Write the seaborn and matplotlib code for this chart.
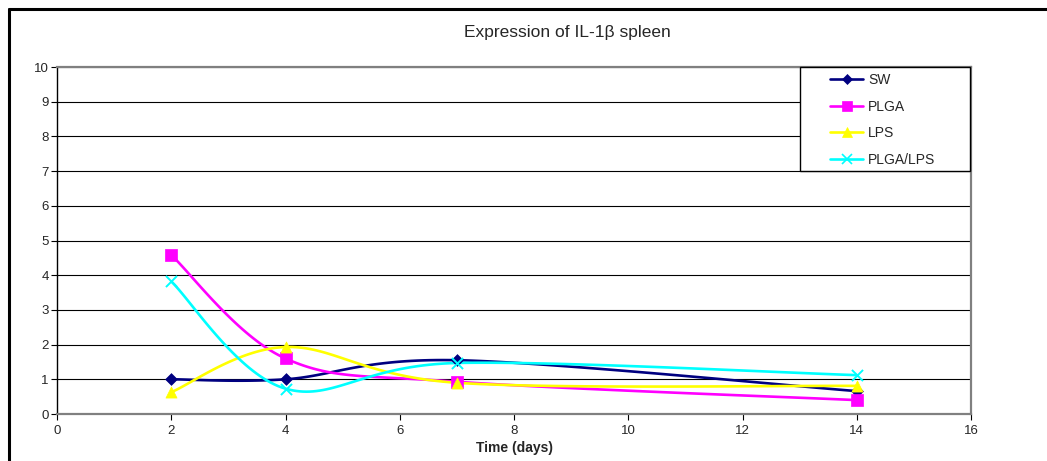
import numpy as np
import pandas as pd
import matplotlib
matplotlib.use("Agg")
import matplotlib.pyplot as plt
from matplotlib.lines import Line2D
from matplotlib.patches import Rectangle
import seaborn as sns

# ── data ──
DAYS = [2, 4, 7, 14]
SW = [1.0, 1.0, 1.55, 0.66]
PLGA = [4.58, 1.60, 0.93, 0.40]
LPS = [0.63, 1.93, 0.90, 0.81]
PLGA_LPS = [3.82, 0.73, 1.47, 1.12]

SERIES = ["SW", "PLGA", "LPS", "PLGA/LPS"]
COLORS = ["#000080", "#FF00FF", "#FFFF00", "#00FFFF"]
MARKERS = ["D", "s", "^", "x"]
MSIZE = [6, 8, 8, 8]

df = pd.DataFrame({
    "day": DAYS * 4,
    "value": SW + PLGA + LPS + PLGA_LPS,
    "series": np.repeat(SERIES, len(DAYS)),
})


def smooth(xs, ys, n=40):
    # Excel-style smoothed line: cubic Bezier with Catmull-Rom control points
    p = np.column_stack([xs, ys]).astype(float)
    p = np.vstack([p[0], p, p[-1]])
    out = []
    t = np.linspace(0, 1, n)[:, None]
    for i in range(1, len(p) - 2):
        p0, p1, p2, p3 = p[i - 1], p[i], p[i + 1], p[i + 2]
        c1 = p1 + (p2 - p0) / 6
        c2 = p2 - (p3 - p1) / 6
        seg = ((1 - t) ** 3) * p1 + 3 * ((1 - t) ** 2) * t * c1 + 3 * (1 - t) * t ** 2 * c2 + t ** 3 * p2
        out.append(seg)
    out = np.vstack(out)
    return out[:, 0], out[:, 1]


sns.set_style("white")
plt.rcParams["font.family"] = ["Liberation Sans", "DejaVu Sans"]

fig = plt.figure(figsize=(10.47, 4.61), dpi=100)
ax = fig.add_axes([57 / 1047, 1 - 414 / 461, (971 - 57) / 1047, (414 - 67) / 461])

for name, color in zip(SERIES, COLORS):
    sub = df[df["series"] == name]
    sx, sy = smooth(sub["day"].values, sub["value"].values)
    ax.plot(sx, sy, color=color, lw=1.9, zorder=3)

for name, color, mk, ms in zip(SERIES, COLORS, MARKERS, MSIZE):
    sub = df[df["series"] == name]
    if mk == "x":
        sns.scatterplot(data=sub, x="day", y="value", ax=ax, color=color, marker=mk,
                        s=ms ** 2, linewidth=1.4, zorder=4, legend=False)
    else:
        sns.scatterplot(data=sub, x="day", y="value", ax=ax, color=color, marker=mk,
                        s=ms ** 2, edgecolor=color, linewidth=0.5, zorder=4, legend=False)

ax.set_xlim(0, 16)
ax.set_ylim(0, 10)
ax.set_xticks(range(0, 17, 2))
ax.set_yticks(range(0, 11))
ax.yaxis.grid(True, color="black", lw=0.8)
ax.set_axisbelow(True)
ax.tick_params(axis="both", labelsize=9.5, length=4, width=0.8, direction="out",
               color="black", left=True, bottom=True, pad=2)
ax.tick_params(axis="x", pad=4)
ax.set_xlabel("Time (days)", fontsize=10, fontweight="bold", labelpad=3)
ax.set_ylabel("")
for side in ["top", "right", "bottom"]:
    ax.spines[side].set_color("#808080")
    ax.spines[side].set_linewidth(1.6)
ax.spines["left"].set_color("black")
ax.spines["left"].set_linewidth(1.0)

# legend frame drawn separately so its size matches the original box
ax.add_patch(Rectangle(((800 - 57) / 914, (414 - 171) / 347), 170 / 914, 104 / 347,
                       transform=ax.transAxes, facecolor="white", edgecolor="black",
                       lw=1.0, zorder=5, clip_on=False))
handles = [Line2D([0], [0], color=c, lw=1.9, marker=m, markersize=s * 0.85,
                  markeredgecolor=c, markeredgewidth=1.2 if m == "x" else 0.5)
           for c, m, s in zip(COLORS, MARKERS, MSIZE)]
leg = ax.legend(handles, SERIES, loc="upper left",
                bbox_to_anchor=((830 - 57) / 914, (414 - 73) / 347),
                fontsize=10, frameon=False, borderpad=0.0, borderaxespad=0.0,
                handlelength=2.4, handletextpad=0.35, labelspacing=0.9)
leg.set_zorder(6)

fig.text(567 / 1047, 1 - 32 / 461, "Expression of IL-1\u03b2 spleen",
         ha="center", va="center", fontsize=12.5)

# outer chart border (left and top edges visible)
fig.add_artist(Line2D([9 / 1047, 1.0], [1 - 9 / 461, 1 - 9 / 461],
                      transform=fig.transFigure, color="black", lw=2.2))
fig.add_artist(Line2D([9 / 1047, 9 / 1047], [0.0, 1 - 9 / 461],
                      transform=fig.transFigure, color="black", lw=2.2))

fig.savefig("out.png", dpi=100)
